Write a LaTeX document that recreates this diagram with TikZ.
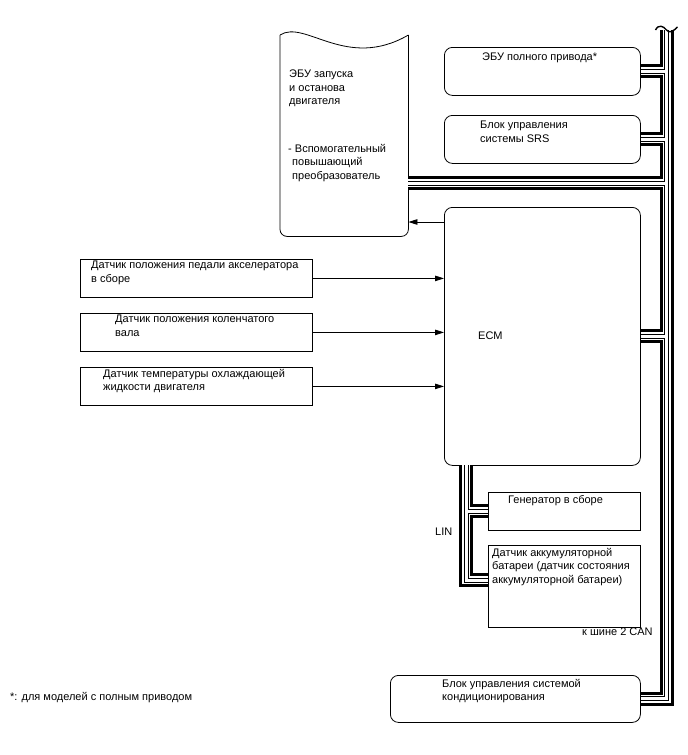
\documentclass[tikz,border=0pt]{standalone}
\usepackage{fontspec}
\setmainfont{Liberation Sans}
\usetikzlibrary{arrows.meta,positioning}
\newcommand{\fs}{\fontsize{11}{13.5}\selectfont}
\tikzset{
  box/.style={draw,line width=0.8pt,inner sep=0,anchor=north west},
  rbox/.style={box,rounded corners=8pt},
  txt/.style={inner sep=0,anchor=north west,align=left,font=\fs,execute at begin node=\strut},
  sig/.style={line width=0.8pt,-{Triangle[length=9pt,width=5.5pt]}},
  wireA/.style={line width=14pt},
  wireB/.style={line width=8pt,white},
  wireC/.style={line width=5pt},
  wireD/.style={line width=3pt,white},
}

\begin{document}
\begin{tikzpicture}[x=1pt,y=-1pt]
  \useasboundingbox (0,0) rectangle (688,755);

  % units on the CAN bus
  \node[rbox,minimum width=196pt,minimum height=48pt] (awd) at (444,47) {};
  \node[rbox,minimum width=196pt,minimum height=48pt] (srs) at (444,115) {};
  \node[rbox,minimum width=196pt,minimum height=258pt] (ecm) at (444,207) {};
  \node[rbox,minimum width=250pt,minimum height=47pt] (ac) at (390,675) {};
  \node[inner sep=0,anchor=north west,minimum width=128pt,minimum height=201pt] (ecu) at (280,35) {};
  \draw[line width=0.8pt,rounded corners=7pt] (ecu.north west) -- (ecu.south west) -- (ecu.south east) -- (ecu.north east);
  \draw[line width=0.8pt] (ecu.north west) .. controls +(25,-16) and +(-62,36) .. (ecu.north east);

  % sensors and LIN units
  \node[box,minimum width=232pt,minimum height=38pt] (apps) at (80,259) {};
  \node[box,minimum width=232pt,minimum height=38pt] (ckp) at (80,313) {};
  \node[box,minimum width=232pt,minimum height=38pt] (ect) at (80,367) {};
  \node[box,minimum width=152pt,minimum height=38pt] (gen) at (488,492) {};
  \node[box,minimum width=152pt,minimum height=82pt] (bat) at (488,545) {};

  % texts
  \node[txt] (awdT) at ([shift={(38,4)}]awd.north west) {ЭБУ полного привода*};
  \node[txt] (srsT) at ([shift={(36,6)}]srs.north west) {Блок управления\\системы SRS};
  \node[txt] (ecmT) at ([shift={(34,123)}]ecm.north west) {ECM};
  \node[txt] (ecuT) at ([shift={(9,35)}]ecu.north west) {ЭБУ запуска\\и останова\\двигателя};
  \node[txt] (dcdcT) at ([shift={(8,109)}]ecu.north west) {- Вспомогательный\\\hspace*{4pt}повышающий\\\hspace*{4pt}преобразователь};
  \node[txt] (appsT) at ([shift={(11,2)}]apps.north west) {Датчик положения педали акселератора\\в сборе};
  \node[txt] (ckpT) at ([shift={(35,2)}]ckp.north west) {Датчик положения коленчатого\\вала};
  \node[txt] (ectT) at ([shift={(23,2)}]ect.north west) {Датчик температуры охлаждающей\\жидкости двигателя};
  \node[txt] (genT) at ([shift={(20,2)}]gen.north west) {Генератор в сборе};
  \node[txt] (batT) at ([shift={(4,3)}]bat.north west) {Датчик аккумуляторной\\батареи (датчик состояния\\аккумуляторной батареи)};
  \node[txt] (acT) at ([shift={(52,4)}]ac.north west) {Блок управления системой\\кондиционирования};
  \node[txt] (linT) at (435,526) {LIN};
  \node[txt] (canT) at (582,626) {к шине 2 CAN};
  \node[txt] (noteT) at (10,691) {*: для моделей с полным приводом};

  % signal lines
  \draw[sig] (ecm.west |- 0,222) -- (ecu.east |- 0,222);
  \foreach \s in {apps,ckp,ect}
    \draw[sig] (\s.east) -- (\s.east -| ecm.west);

  % CAN and LIN wiring
  \coordinate (busTop) at (666.5,30);
  \coordinate (busBot) at (busTop |- ac.east);
  \coordinate (t1) at (busTop |- awd.east);
  \coordinate (t2) at (busTop |- srs.east);
  \coordinate (t3) at (666.5,183);
  \coordinate (t4) at (busTop |- ecm.east);
  \coordinate (linTop) at (466,465);
  \coordinate (linBot) at (466,580);
  \coordinate (linTap) at (linTop |- gen.west);
  \foreach \ly in {wireA,wireB,wireC,wireD}{
    \draw[\ly] (busTop) -- (busBot) -- (ac.east);
    \draw[\ly] (awd.east) -- (t1);
    \draw[\ly] (srs.east) -- (t2);
    \draw[\ly] (t3 -| ecu.east) -- (t3);
    \draw[\ly] (ecm.east) -- (t4);
    \draw[\ly] (linTop) -- (linBot) -- (linBot -| bat.west);
    \draw[\ly] (gen.west) -- (linTap);
  }
  \draw[line width=1.4pt] ([xshift=-11pt]busTop) .. controls +(3,-6) and +(-3,-4) .. (busTop)
    .. controls +(3,4) and +(-4,4) .. ([xshift=11pt,yshift=3pt]busTop);
\end{tikzpicture}
\end{document}
